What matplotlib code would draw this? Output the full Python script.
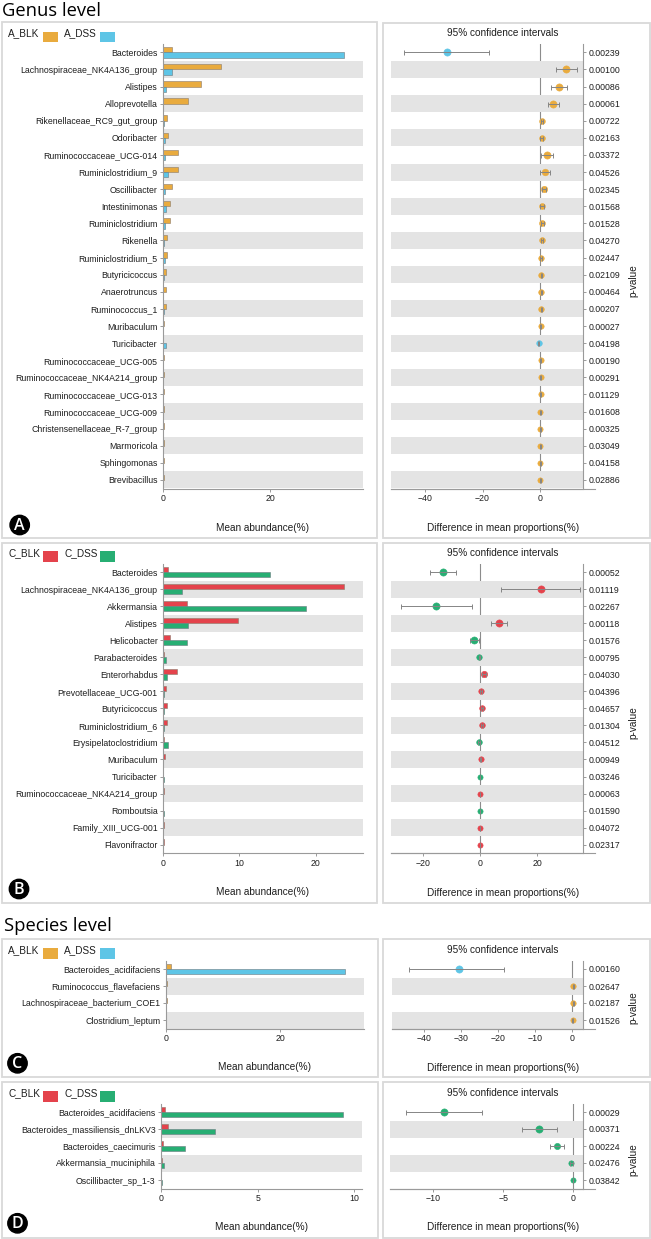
import matplotlib
matplotlib.use('Agg')
import matplotlib.pyplot as plt
from matplotlib.patches import Rectangle, Circle
import numpy as np

plt.rcParams['font.family'] = ['Liberation Sans', 'DejaVu Sans']

# ---------------- DATA ----------------
# Panel A: genus level, A_BLK vs A_DSS
A_taxa = ["Bacteroides", "Lachnospiraceae_NK4A136_group", "Alistipes", "Alloprevotella",
          "Rikenellaceae_RC9_gut_group", "Odoribacter", "Ruminococcaceae_UCG-014",
          "Ruminiclostridium_9", "Oscillibacter", "Intestinimonas", "Ruminiclostridium",
          "Rikenella", "Ruminiclostridium_5", "Butyricicoccus", "Anaerotruncus",
          "Ruminococcus_1", "Muribaculum", "Turicibacter", "Ruminococcaceae_UCG-005",
          "Ruminococcaceae_NK4A214_group", "Ruminococcaceae_UCG-013", "Ruminococcaceae_UCG-009",
          "Christensenellaceae_R-7_group", "Marmoricola", "Sphingomonas", "Brevibacillus"]
A_blk = [1.55, 10.8, 7.0, 4.7, 0.75, 0.85, 2.8, 2.7, 1.6, 1.25, 1.2, 0.75, 0.65, 0.55,
         0.5, 0.45, 0.15, 0.02, 0.15, 0.15, 0.15, 0.12, 0.12, 0.1, 0.08, 0.08]
A_dss = [33.8, 1.55, 0.45, 0.03, 0.1, 0.3, 0.3, 0.85, 0.3, 0.45, 0.3, 0.05, 0.3, 0.05,
         0.02, 0.05, 0.02, 0.5, 0.02, 0.02, 0.02, 0.02, 0.02, 0.01, 0.01, 0.01]
A_diff = [-32.5, 9.0, 6.5, 4.5, 0.6, 0.6, 2.3, 1.6, 1.3, 0.7, 0.8, 0.6, 0.4, 0.45,
          0.45, 0.45, 0.2, -0.45, 0.15, 0.15, 0.15, 0.12, 0.12, 0.1, 0.08, 0.08]
A_lo = [-47.2, 5.4, 3.9, 2.9, 0.2, 0.1, 0.2, -0.1, 0.6, 0.1, 0.3, 0.2, 0.1, 0.25,
        0.25, 0.25, 0.1, -0.6, 0.05, 0.05, 0.05, 0.05, 0.05, 0.03, 0.02, 0.02]
A_hi = [-17.6, 12.8, 9.3, 6.5, 1.0, 1.1, 4.6, 3.5, 1.9, 1.3, 1.3, 1.1, 0.7, 0.65,
        0.65, 0.65, 0.3, -0.3, 0.25, 0.25, 0.25, 0.2, 0.2, 0.17, 0.14, 0.14]
A_p = ["0.00239", "0.00100", "0.00086", "0.00061", "0.00722", "0.02163", "0.03372",
       "0.04526", "0.02345", "0.01568", "0.01528", "0.04270", "0.02447", "0.02109",
       "0.00464", "0.00207", "0.00027", "0.04198", "0.00190", "0.00291", "0.01129",
       "0.01608", "0.00325", "0.03049", "0.04158", "0.02886"]

# Panel B: genus level, C_BLK vs C_DSS
B_taxa = ["Bacteroides", "Lachnospiraceae_NK4A136_group", "Akkermansia", "Alistipes",
          "Helicobacter", "Parabacteroides", "Enterorhabdus", "Prevotellaceae_UCG-001",
          "Butyricicoccus", "Ruminiclostridium_6", "Erysipelatoclostridium", "Muribaculum",
          "Turicibacter", "Ruminococcaceae_NK4A214_group", "Romboutsia", "Family_XIII_UCG-001",
          "Flavonifractor"]
B_blk = [0.6, 23.7, 3.1, 9.85, 0.9, 0.15, 1.85, 0.3, 0.55, 0.5, 0.1, 0.2, 0.01, 0.05,
         0.01, 0.04, 0.04]
B_dss = [14.0, 2.4, 18.7, 3.2, 3.1, 0.4, 0.55, 0.03, 0.05, 0.05, 0.62, 0.02, 0.04, 0.01,
         0.05, 0.01, 0.01]
B_diff = [-13.2, 21.2, -15.4, 6.7, -2.1, -0.35, 1.3, 0.3, 0.5, 0.5, -0.5, 0.2, -0.03,
          0.04, -0.04, 0.03, 0.03]
B_lo = [-17.6, 7.3, -27.9, 3.9, -3.7, -0.6, 0.7, 0.05, 0.15, 0.15, -0.85, 0.05, -0.08,
        0.01, -0.08, 0.01, 0.01]
B_hi = [-8.5, 35.1, -3.0, 9.5, -0.6, -0.1, 1.9, 0.55, 0.85, 0.85, -0.15, 0.35, 0.02,
        0.07, -0.01, 0.06, 0.06]
B_p = ["0.00052", "0.01119", "0.02267", "0.00118", "0.01576", "0.00795", "0.04030",
       "0.04396", "0.04657", "0.01304", "0.04512", "0.00949", "0.03246", "0.00063",
       "0.01590", "0.04072", "0.02317"]

# Panel C: species level, A_BLK vs A_DSS
C_taxa = ["Bacteroides_acidifaciens", "Ruminococcus_flavefaciens",
          "Lachnospiraceae_bacterium_COE1", "Clostridium_leptum"]
C_blk = [0.87, 0.3, 0.3, 0.1]
C_dss = [31.3, 0.02, 0.02, 0.01]
C_diff = [-30.6, 0.3, 0.3, 0.1]
C_lo = [-44.2, 0.1, 0.1, 0.03]
C_hi = [-18.4, 0.5, 0.5, 0.17]
C_p = ["0.00160", "0.02647", "0.02187", "0.01526"]

# Panel D: species level, C_BLK vs C_DSS
D_taxa = ["Bacteroides_acidifaciens", "Bacteroides_massiliensis_dnLKV3",
          "Bacteroides_caecimuris", "Akkermansia_muciniphila", "Oscillibacter_sp_1-3"]
D_blk = [0.17, 0.33, 0.09, 0.02, 0.01]
D_dss = [9.45, 2.77, 1.21, 0.16, 0.02]
D_diff = [-9.26, -2.43, -1.14, -0.14, -0.02]
D_lo = [-11.95, -3.69, -1.64, -0.26, -0.05]
D_hi = [-6.55, -1.17, -0.69, -0.03, 0.01]
D_p = ["0.00029", "0.00371", "0.00224", "0.02476", "0.03842"]

# ---------------- STYLE ----------------
W, H = 651, 1239
ORANGE = '#E9AB3E'
BLUE = '#5EC5E6'
RED = '#E4434C'
GREEN = '#27AE73'
BAND = '#e4e4e4'
SPINE = '#9a9a9a'
TXT = '#1e1e1e'
BOX = '#d9d9d9'

fig = plt.figure(figsize=(W / 100, H / 100), dpi=100)


def ax_px(x0, y0, x1, y1):
    return fig.add_axes([x0 / W, 1 - y1 / H, (x1 - x0) / W, (y1 - y0) / H])


def ftext(x, y, s, **kw):
    fig.text(x / W, 1 - y / H, s, **kw)


def box(x0, y0, x1, y1):
    fig.add_artist(Rectangle((x0 / W, 1 - y1 / H), (x1 - x0) / W, (y1 - y0) / H,
                             transform=fig.transFigure, fill=False, ec=BOX, lw=1.3))


def circle_label(cx, cy, letter):
    fig.add_artist(Circle((cx / 100, (H - cy) / 100), 0.097, transform=fig.dpi_scale_trans,
                          color='black'))
    ftext(cx, cy + 0.5, letter, color='white', fontsize=11.5, fontweight='semibold',
          ha='center', va='center', family=['Open Sans', 'DejaVu Sans'])


def legend(y, n1, n2, c1, c2):
    ftext(8.3, y, n1, fontsize=7.2, color=TXT, va='center', ha='left')
    ftext(64.3, y, n2, fontsize=7.2, color=TXT, va='center', ha='left')
    for x0, c in ((43.3, c1), (100.3, c2)):
        fig.add_artist(Rectangle((x0 / W, 1 - (y + 8.5) / H), 14.5 / W, 10.5 / H,
                                 transform=fig.transFigure, color=c, lw=0))


def style_common(ax):
    ax.tick_params(axis='both', labelsize=6.3, colors=SPINE, labelcolor=TXT,
                   length=2.5, width=0.7, pad=1.5)
    for s in ax.spines.values():
        s.set_color(SPINE)
        s.set_linewidth(0.8)


def bar_panel(rect, taxa, blk, dss, c1, c2, xmax, xticks):
    n = len(taxa)
    y = np.arange(n)
    ax = ax_px(*rect)
    for i in range(1, n, 2):
        ax.axhspan(i - 0.5, i + 0.5, color=BAND, lw=0, zorder=0)
    ax.barh(y - 0.155, blk, height=0.31, color=c1, edgecolor='#8a7a6a', lw=0.4, zorder=2)
    ax.barh(y + 0.155, dss, height=0.31, color=c2, edgecolor='#6a7a80', lw=0.4, zorder=2)
    ax.set_ylim(n - 0.5, -0.5)
    ax.set_xlim(0, xmax)
    ax.set_yticks(y)
    ax.set_yticklabels(taxa)
    ax.set_xticks(xticks)
    ax.spines['top'].set_visible(False)
    ax.spines['right'].set_visible(False)
    style_common(ax)
    return ax


def ci_panel(rect, diff, lo, hi, pvals, c1, c2, xlim, xticks):
    n = len(diff)
    y = np.arange(n)
    ax = ax_px(*rect)
    ax.axvline(0, color='#8c8c8c', lw=0.8, zorder=0)
    for i in range(1, n, 2):
        ax.axhspan(i - 0.5, i + 0.5, color=BAND, lw=0, zorder=1)
    diff = np.asarray(diff)
    for i in range(n):
        c = c1 if diff[i] >= 0 else c2
        ms_px = float(np.clip(5.2 + 0.9 * abs(diff[i]), 5.2, 7.2))
        ax.plot(diff[i], i, 'o', color=c, ms=ms_px * 0.72, mec=c, mew=0.4, zorder=3)
    ax.errorbar(diff, y, xerr=[diff - np.asarray(lo), np.asarray(hi) - diff], fmt='none',
                ecolor='#858585', elinewidth=0.7, capsize=1.8, capthick=0.7, zorder=4)
    ax.set_ylim(n - 0.5, -0.5)
    ax.set_xlim(*xlim)
    ax.set_xticks(xticks)
    ax.yaxis.tick_right()
    ax.set_yticks(y)
    ax.set_yticklabels(pvals)
    ax.spines['top'].set_visible(False)
    ax.spines['left'].set_visible(False)
    style_common(ax)
    ax.plot([0, 1.065], [0, 0], transform=ax.transAxes, color=SPINE, lw=0.8, clip_on=False)
    return ax


# ---------------- Titles ----------------
ftext(1.5, 11, "Genus level", fontsize=13.2, color='black', va='center', ha='left',
      family=['Open Sans', 'DejaVu Sans'])
ftext(4, 926, "Species level", fontsize=13.2, color='black', va='center', ha='left',
      family=['Open Sans', 'DejaVu Sans'])

# ---------------- Panel A ----------------
box(1.7, 21.7, 376.7, 537.7)
box(383.3, 22.7, 650, 538.3)
legend(33.5, "A_BLK", "A_DSS", ORANGE, BLUE)
bar_panel((163.3, 43.8, 363, 488.5), A_taxa, A_blk, A_dss, ORANGE, BLUE, 37.35, [0, 20])
ci_panel((391, 43.8, 582.7, 488.5), A_diff, A_lo, A_hi, A_p, ORANGE, BLUE, (-51.8, 14.8),
         [-40, -20, 0])
ftext(263, 527.7, "Mean abundance(%)", fontsize=7.2, color=TXT, ha='center', va='center')
ftext(502.8, 527.7, "Difference in mean proportions(%)", fontsize=7.2, color=TXT,
      ha='center', va='center')
ftext(502.8, 33.3, "95% confidence intervals", fontsize=7.2, color=TXT, ha='center', va='center')
ftext(633.3, 280.5, "p-value", fontsize=7.2, color=TXT, ha='center', va='center', rotation=90)
circle_label(19.7, 525, "A")

# ---------------- Panel B ----------------
box(1.7, 542.7, 376.7, 902.7)
box(383.3, 542.7, 650, 902.7)
legend(553.3, "C_BLK", "C_DSS", RED, GREEN)
bar_panel((163.3, 563.5, 362.7, 853.2), B_taxa, B_blk, B_dss, RED, GREEN, 26.2, [0, 10, 20])
ci_panel((391, 563.5, 582.7, 853.2), B_diff, B_lo, B_hi, B_p, RED, GREEN, (-31.3, 35.9),
         [-20, 0, 20])
ftext(262.8, 892.3, "Mean abundance(%)", fontsize=7.2, color=TXT, ha='center', va='center')
ftext(502.8, 892.7, "Difference in mean proportions(%)", fontsize=7.2, color=TXT,
      ha='center', va='center')
ftext(502.8, 553.3, "95% confidence intervals", fontsize=7.2, color=TXT, ha='center', va='center')
ftext(633.3, 722.7, "p-value", fontsize=7.2, color=TXT, ha='center', va='center', rotation=90)
circle_label(19.0, 889, "B")

# ---------------- Panel C ----------------
box(1.7, 939.3, 378, 1077.3)
box(383.3, 939.3, 650, 1077.3)
legend(950, "A_BLK", "A_DSS", ORANGE, BLUE)
bar_panel((165.7, 960.5, 364, 1028.5), C_taxa, C_blk, C_dss, ORANGE, BLUE, 34.6, [0, 20])
ci_panel((392, 960.5, 582.7, 1028.5), C_diff, C_lo, C_hi, C_p, ORANGE, BLUE, (-48.7, 2.8),
         [-40, -30, -20, -10, 0])
ftext(264.5, 1067.5, "Mean abundance(%)", fontsize=7.2, color=TXT, ha='center', va='center')
ftext(502.8, 1068, "Difference in mean proportions(%)", fontsize=7.2, color=TXT,
      ha='center', va='center')
ftext(502.8, 950, "95% confidence intervals", fontsize=7.2, color=TXT, ha='center', va='center')
ftext(633.3, 1008, "p-value", fontsize=7.2, color=TXT, ha='center', va='center', rotation=90)
circle_label(17.5, 1063.3, "C")

# ---------------- Panel D ----------------
box(1.7, 1082.3, 378, 1237.7)
box(383.3, 1082.3, 650, 1237.7)
legend(1093.3, "C_BLK", "C_DSS", RED, GREEN)
bar_panel((161.3, 1103.5, 362, 1188.5), D_taxa, D_blk, D_dss, RED, GREEN, 10.42, [0, 5, 10])
ci_panel((390, 1103.5, 582.7, 1188.5), D_diff, D_lo, D_hi, D_p, RED, GREEN, (-13.1, 0.67),
         [-10, -5, 0])
ftext(261.2, 1227.3, "Mean abundance(%)", fontsize=7.2, color=TXT, ha='center', va='center')
ftext(502.8, 1227.3, "Difference in mean proportions(%)", fontsize=7.2, color=TXT,
      ha='center', va='center')
ftext(502.8, 1093.3, "95% confidence intervals", fontsize=7.2, color=TXT, ha='center', va='center')
ftext(633.3, 1160, "p-value", fontsize=7.2, color=TXT, ha='center', va='center', rotation=90)
circle_label(17.5, 1223.3, "D")

fig.savefig('out.png', dpi=100, facecolor='white')
